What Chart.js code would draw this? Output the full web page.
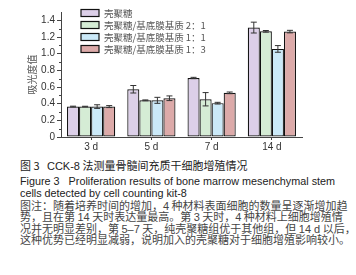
<!DOCTYPE html>
<html>
<head>
<meta charset="utf-8">
<script src="https://cdn.jsdelivr.net/npm/chart.js@4"></script>
<style>
  body { margin: 0; background: #fff; width: 356px; height: 275px; overflow: hidden; position: relative; }
  #wrap { position: absolute; left: 0; top: 0; width: 356px; height: 157px; }
  .cap { position: absolute; left: 20px; white-space: nowrap; color: #222; line-height: 16px; }
  .cn { font-family: "Noto Sans CJK SC", "Liberation Sans", sans-serif; }
  .en { font-family: "Liberation Sans", Arial, sans-serif; }
  .note { color: #444; font-size: 11px; }
</style>
</head>
<body>
<div id="wrap"><canvas id="cck8Chart" width="356" height="157"></canvas></div>

<div class="cap cn" style="top:157px;font-size:11px;">图 3&nbsp;&nbsp;&nbsp;<span class="en">CCK-8</span> 法测量骨髓间充质干细胞增殖情况</div>
<div class="cap en" style="top:173px;font-size:10.8px;">Figure 3&nbsp;&nbsp;&nbsp;Proliferation results of bone marrow mesenchymal stem</div>
<div class="cap en" style="top:184.5px;font-size:10.8px;">cells detected by cell counting kit-8</div>
<div class="cap cn note" style="top:197px;">图注：随着培养时间的增加，<span class="en">4</span> 种材料表面细胞的数量呈逐渐增加趋</div>
<div class="cap cn note" style="top:208.3px;">势，且在第 <span class="en">14</span> 天时表达量最高。第 <span class="en">3</span> 天时，<span class="en">4</span> 种材料上细胞增殖情</div>
<div class="cap cn note" style="top:219.6px;">况并无明显差别，第 <span class="en">5–7</span> 天，纯壳聚糖组优于其他组，但 <span class="en">14 d</span> 以后，</div>
<div class="cap cn note" style="top:231px;">这种优势已经明显减弱，说明加入的壳聚糖对于细胞增殖影响较小。</div>

<script>
// Data
const days = ['3 d', '5 d', '7 d', '14 d'];
const seriesNames = ['壳聚糖', '壳聚糖/基底膜基质 2：1', '壳聚糖/基底膜基质 1：1', '壳聚糖/基底膜基质 1：3'];
const chitosan      = [0.365, 0.573, 0.708, 1.313];
const chitosan21    = [0.365, 0.440, 0.453, 1.268];
const chitosan11    = [0.365, 0.440, 0.406, 1.057];
const chitosan13    = [0.365, 0.465, 0.530, 1.265];
const chitosanErr   = [0.005, 0.045, 0.008, 0.065];
const chitosan21Err = [0.004, 0.005, 0.080, 0.010];
const chitosan11Err = [0.022, 0.036, 0.010, 0.040];
const chitosan13Err = [0.012, 0.028, 0.010, 0.015];
const yTicks = [0, 0.2, 0.4, 0.6, 0.8, 1.0, 1.2, 1.4];
const yTitle = '吸光度值';

const fills = ['#dccfe8', '#d5ecd5', '#cbe9f8', '#dcaaa9'];
const allValues = [chitosan, chitosan21, chitosan11, chitosan13];
const allErrors = [chitosanErr, chitosan21Err, chitosan11Err, chitosan13Err];

// error bars with caps
const errorBars = {
    id: 'errorBars',
    afterDatasetsDraw(chart) {
        const ctx = chart.ctx;
        const y = chart.scales.y;
        ctx.save();
        ctx.strokeStyle = '#333';
        ctx.lineWidth = 1;
        chart.data.datasets.forEach((ds, i) => {
            chart.getDatasetMeta(i).data.forEach((bar, j) => {
                const v = ds.data[j];
                const e = ds.errors[j];
                const top = y.getPixelForValue(v + e);
                const bot = y.getPixelForValue(v - e);
                ctx.beginPath();
                ctx.moveTo(bar.x, top); ctx.lineTo(bar.x, bot);
                ctx.moveTo(bar.x - 3, top); ctx.lineTo(bar.x + 3, top);
                ctx.moveTo(bar.x - 3, bot); ctx.lineTo(bar.x + 3, bot);
                ctx.stroke();
            });
        });
        ctx.restore();
    }
};

// minor ticks, y title and legend inside the plot
const extras = {
    id: 'extras',
    afterDraw(chart) {
        const ctx = chart.ctx;
        const y = chart.scales.y;
        const area = chart.chartArea;
        ctx.save();
        ctx.strokeStyle = '#444';
        ctx.lineWidth = 1;
        for (let k = 1; k < 15; k += 2) {
            const py = Math.round(y.getPixelForValue(k / 10)) + 0.5;
            ctx.beginPath();
            ctx.moveTo(area.left - 2, py); ctx.lineTo(area.left, py);
            ctx.stroke();
        }

        // y title
        ctx.save();
        ctx.translate(32, (area.top + area.bottom) / 2);
        ctx.rotate(-Math.PI / 2);
        ctx.font = '10px "Noto Sans CJK SC", sans-serif';
        ctx.fillStyle = '#555';
        ctx.textAlign = 'center';
        ctx.textBaseline = 'middle';
        ctx.fillText(yTitle, 0, 0);
        ctx.restore();

        // legend
        ctx.font = '9.5px "Noto Sans CJK SC", "Liberation Sans", sans-serif';
        ctx.textBaseline = 'middle';
        chart.data.datasets.forEach((ds, i) => {
            const cy = 13 + i * 12;
            ctx.fillStyle = ds.backgroundColor;
            ctx.fillRect(81, cy - 3.5, 18, 7);
            ctx.strokeStyle = '#111';
            ctx.lineWidth = 1.2;
            ctx.strokeRect(81, cy - 3.5, 18, 7);
            ctx.fillStyle = '#555';
            ctx.fillText(ds.label, 104, cy);
        });
        ctx.restore();
    }
};

function initChart() {
    const ctx = document.getElementById('cck8Chart').getContext('2d');
    new Chart(ctx, {
        type: 'bar',
        data: {
            labels: days,
            datasets: seriesNames.map((name, i) => ({
                label: name,
                data: allValues[i],
                errors: allErrors[i],
                backgroundColor: fills[i],
                borderColor: '#111',
                borderWidth: 1.2,
                borderSkipped: false,
                categoryPercentage: 0.8,
                barPercentage: 1.0
            }))
        },
        options: {
            responsive: false,
            animation: false,
            layout: { padding: { top: 12, right: 54, left: 0, bottom: 0 } },
            plugins: {
                legend: { display: false },
                tooltip: { enabled: false }
            },
            scales: {
                x: {
                    grid: { drawOnChartArea: false, offset: false, tickLength: 3, color: '#444' },
                    border: { color: '#444' },
                    ticks: { color: '#333', font: { family: 'Liberation Sans', size: 10 }, padding: 1 },
                    afterFit: s => { s.height = 20; }
                },
                y: {
                    min: 0,
                    max: 1.5,
                    grid: { drawOnChartArea: false, tickLength: 4, color: '#444' },
                    border: { color: '#444' },
                    afterBuildTicks: s => { s.ticks = yTicks.map(v => ({ value: v })); },
                    ticks: {
                        color: '#333',
                        font: { family: 'Liberation Sans', size: 10 },
                        padding: 2,
                        callback: v => v === 0 ? '0' : v.toFixed(1)
                    },
                    afterFit: s => { s.width = 61; }
                }
            }
        },
        plugins: [errorBars, extras]
    });
}

document.addEventListener('DOMContentLoaded', initChart);
</script>
</body>
</html>
